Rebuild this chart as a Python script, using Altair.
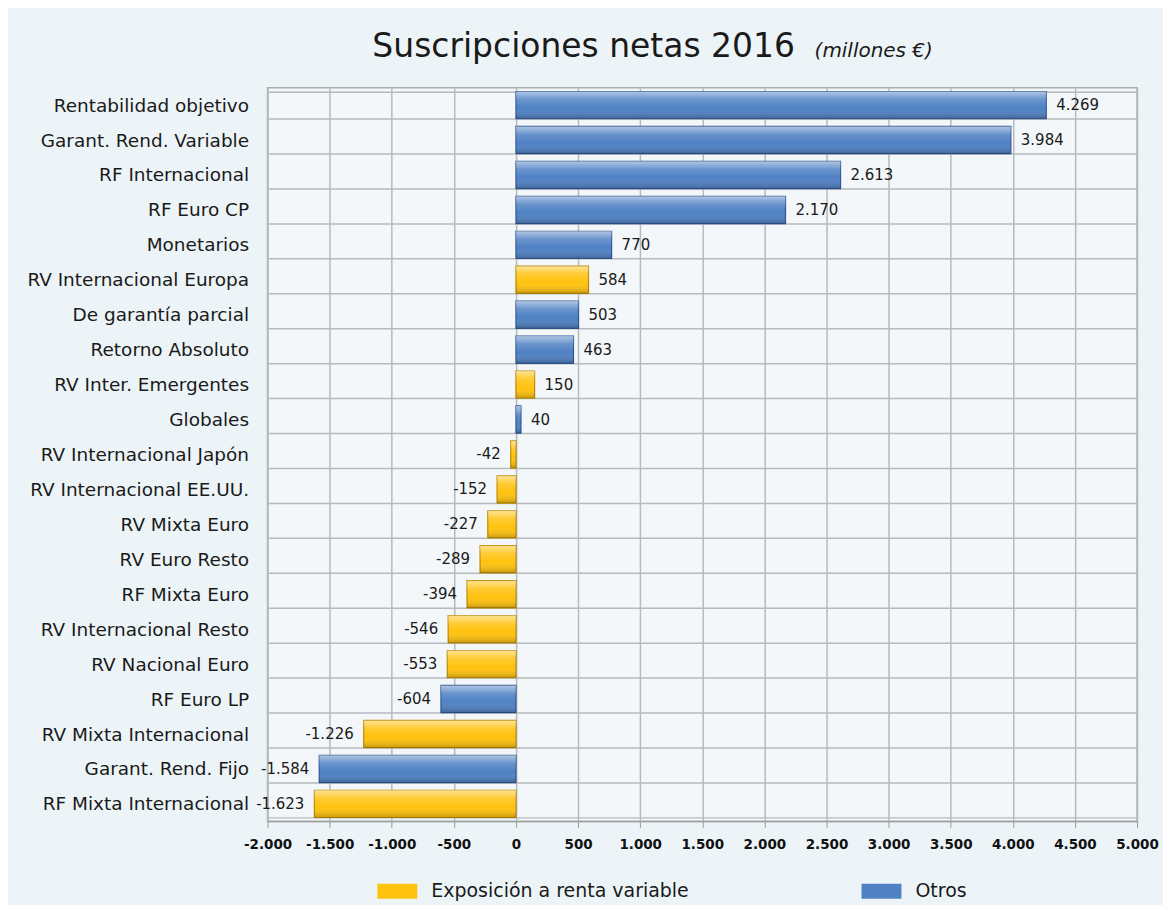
import altair as alt
import pandas as pd

categories = [
    "Rentabilidad objetivo", "Garant. Rend. Variable", "RF Internacional", "RF Euro CP",
    "Monetarios", "RV Internacional Europa", "De garantía parcial", "Retorno Absoluto",
    "RV Inter. Emergentes", "Globales", "RV Internacional Japón", "RV Internacional EE.UU.",
    "RV Mixta Euro", "RV Euro Resto", "RF Mixta Euro", "RV Internacional Resto",
    "RV Nacional Euro", "RF Euro LP", "RV Mixta Internacional", "Garant. Rend. Fijo",
    "RF Mixta Internacional",
]
values = [4269, 3984, 2613, 2170, 770, 584, 503, 463, 150, 40, -42, -152, -227, -289,
          -394, -546, -553, -604, -1226, -1584, -1623]
VAR = "Exposición a renta variable"
OTH = "Otros"
groups = [OTH, OTH, OTH, OTH, OTH, VAR, OTH, OTH, VAR, OTH, VAR, VAR, VAR, VAR,
          VAR, VAR, VAR, OTH, VAR, OTH, VAR]
group_names = [VAR, OTH]
group_colors = ["#FFC20E", "#4F81C4"]
x_ticks = list(range(-2000, 5001, 500))
title_text = "Suscripciones netas 2016"
unit_text = "(millones €)"

df = pd.DataFrame({"categoria": categories, "valor": values, "grupo": groups})

FONT = "DejaVu Sans"
GRID = "#b7babc"
FMT = "replace(replace(format({v}, ','), ',', '.'), '\u2212', '-')"

y_enc = alt.Y(
    "categoria:N", sort=categories, title=None,
    scale=alt.Scale(paddingInner=0.22, paddingOuter=0.11),
    axis=alt.Axis(labelFont=FONT, labelFontSize=18.5, labelColor="#1a1a1a", labelPadding=19,
                  labelLimit=400, ticks=False, domain=False, grid=True, tickBand="extent",
                  gridColor=GRID, gridWidth=1.5),
)
x_enc = alt.X(
    "valor:Q", title=None,
    scale=alt.Scale(domain=[-2000, 5000], nice=False, zero=True),
    axis=alt.Axis(values=x_ticks, labelOverlap=False, labelFlush=False,
                  labelExpr=FMT.format(v="datum.value"),
                  labelFont=FONT, labelFontWeight="bold", labelFontSize=13.5,
                  labelColor="#111111", tickSize=6, tickColor="#999999",
                  domainColor="#999999", gridColor=GRID, gridWidth=1.5, labelPadding=10),
)

base = alt.Chart(df)

bars = base.mark_bar(strokeWidth=1.2).encode(
    x=x_enc, y=y_enc,
    color=alt.Color("grupo:N", scale=alt.Scale(domain=group_names, range=group_colors),
                    legend=alt.Legend(title=None, orient="none", legendX=110, legendY=785,
                                      direction="horizontal",
                                      symbolType="M-1,-0.375H1V0.375H-1Z", symbolSize=1600,
                                      symbolStrokeWidth=0, labelFont=FONT, labelFontSize=19,
                                      labelColor="#1a1a1a", labelOffset=14, columnPadding=172,
                                      labelLimit=400)),
    stroke=alt.Stroke("grupo:N", scale=alt.Scale(domain=group_names, range=["#B98A00", "#2E5591"]),
                      legend=None),
)

shine = base.mark_bar(
    fill=alt.Gradient(gradient="linear", x1=0, x2=0, y1=0, y2=1, stops=[
        alt.GradientStop(color="rgba(255,255,255,0.55)", offset=0),
        alt.GradientStop(color="rgba(255,255,255,0.15)", offset=0.3),
        alt.GradientStop(color="rgba(255,255,255,0)", offset=0.6),
        alt.GradientStop(color="rgba(0,0,0,0.22)", offset=1),
    ])
).encode(x="valor:Q", y=alt.Y("categoria:N", sort=categories))

lab = base.transform_calculate(label=FMT.format(v="datum.valor"))
pos_text = lab.transform_filter("datum.valor >= 0").mark_text(
    align="left", dx=10, font=FONT, fontSize=15, color="#1a1a1a"
).encode(x="valor:Q", y=alt.Y("categoria:N", sort=categories), text="label:N")
neg_text = lab.transform_filter("datum.valor < 0").mark_text(
    align="right", dx=-10, font=FONT, fontSize=15, color="#1a1a1a"
).encode(x="valor:Q", y=alt.Y("categoria:N", sort=categories), text="label:N")

title = alt.Chart(pd.DataFrame({"t": [title_text]})).mark_text(
    align="left", baseline="alphabetic", font=FONT, fontSize=33, color="#1a1a1a"
).encode(text="t:N", x=alt.value(105), y=alt.value(-31))

unit = alt.Chart(pd.DataFrame({"t": [unit_text]})).mark_text(
    align="left", baseline="alphabetic", font=FONT, fontSize=20, fontStyle="italic", color="#1a1a1a"
).encode(text="t:N", x=alt.value(548), y=alt.value(-31))

chart = alt.layer(bars, shine, pos_text, neg_text, title, unit).properties(
    width=871, height=735,
    autosize=alt.AutoSizeParams(type="none"),
    padding={"left": 260, "top": 79, "right": 26, "bottom": 83},
).configure(background="#EDF4F8").configure_view(fill="#F3F7F9", stroke="#a9adb0", strokeWidth=1.5)

chart.save("out.html", embed_options={"renderer": "svg", "actions": False})
